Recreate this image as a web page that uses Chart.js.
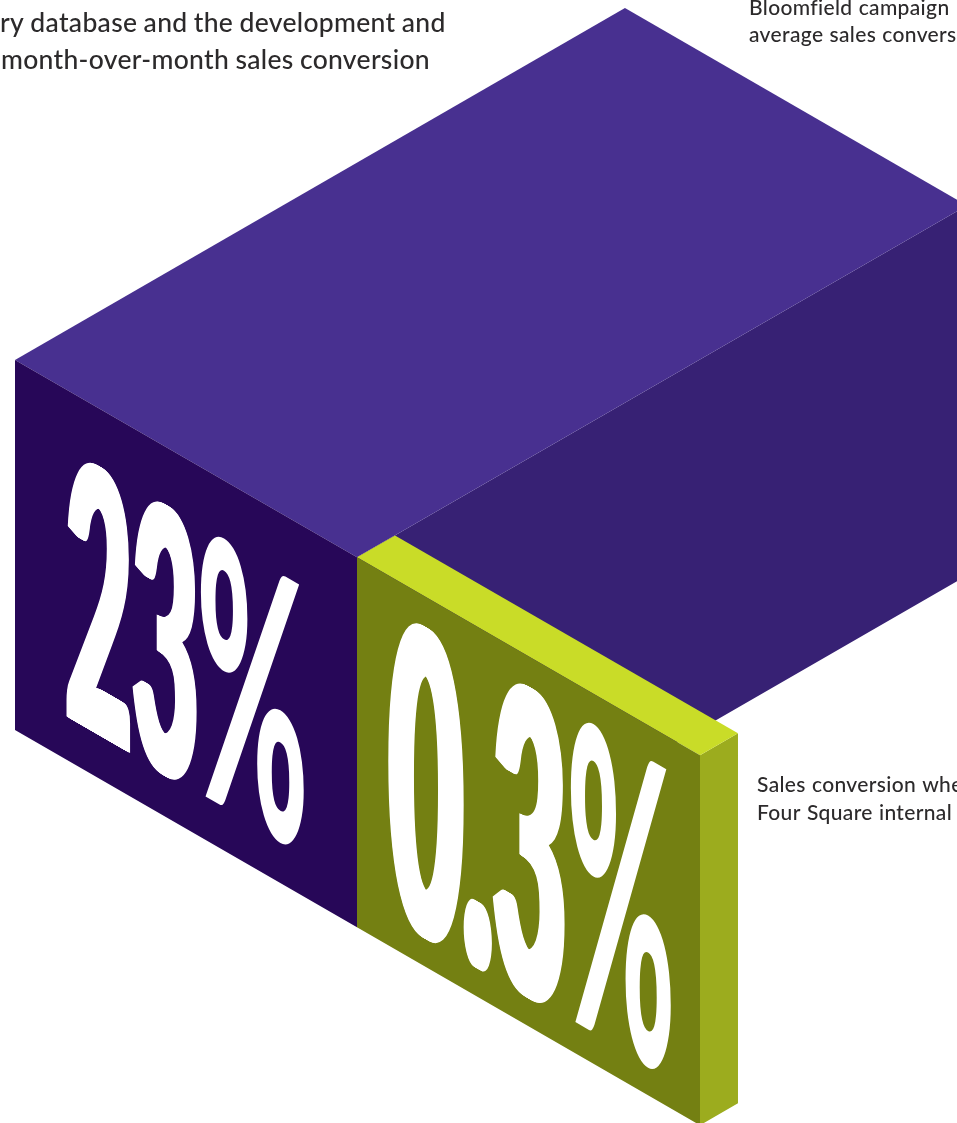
<!DOCTYPE html>
<html>
<head>
<meta charset="utf-8">
<title>Sales conversion</title>
<script src="https://cdn.jsdelivr.net/npm/chart.js@4"></script>
<style>
    html, body { margin: 0; padding: 0; background: #fff; overflow: hidden; }
    #wrap { width: 957px; height: 1123px; }
    canvas { display: block; }
</style>
</head>
<body>
<div id="wrap"><canvas id="blocks" width="957" height="1123"></canvas></div>
<script>
// Sales conversion, %
const conversion = [23, 0.3];

const introLines = ["ry database and the development and", "month-over-month sales conversion"];
const bloomfieldLines = ["Bloomfield campaign", "average sales convers"];
const fourSquareLines = ["Sales conversion whe", "Four Square internal"];

// Isometric layout of the blocks
const SLOPE = 0.577;
const FRONT_LEFT = { x: 15, y: 360 };
const FACE_RUN = 342;
const FACE_HEIGHT = 370;
const DEPTH_PER_DECADE = 303.5;
const DEPTH_FLOOR = 0.2249;

const faceColors = [
    { top: "#483090", side: "#372174", front: "#270758" },
    { top: "#c9dc28", side: "#9cac1e", front: "#748012" }
];

// Depth grows with the log of the value
function depthRun(value) {
    return DEPTH_PER_DECADE * Math.log10(value / DEPTH_FLOOR);
}

// Corner of a block: across the front, back into depth, down the height
function corner(i, across, back, down) {
    const startX = FRONT_LEFT.x + i * FACE_RUN;
    const startY = FRONT_LEFT.y + i * FACE_RUN * SLOPE;
    return {
        x: startX + across + back,
        y: startY + (across - back) * SLOPE + down
    };
}

function face(color, points) {
    return {
        data: points.concat(points[0]),
        showLine: true,
        fill: "shape",
        backgroundColor: color,
        borderColor: color,
        borderWidth: 0,
        pointRadius: 0,
        tension: 0
    };
}

function blockFaces(value, i) {
    const d = depthRun(value);
    const w = FACE_RUN + (i === 1 ? 1 : 0);
    const h = FACE_HEIGHT;
    const colors = faceColors[i];
    return [
        face(colors.side, [corner(i, w, 0, 0), corner(i, w, d, 0), corner(i, w, d, h), corner(i, w, 0, h)]),
        face(colors.top, [corner(i, 0, 0, 0), corner(i, 0, d, 0), corner(i, w, d, 0), corner(i, w, 0, 0)]),
        face(colors.front, [corner(i, 0, 0, 0), corner(i, w, 0, 0), corner(i, w, 0, h), corner(i, 0, 0, h)])
    ];
}

// Big numbers lie on the front faces, squeezed and sheared to the same slope
const figureBoxes = [
    { left: 66, digitsRight: 197, signLeft: 200, right: 305, base: 716, height: 264, bold: 2.5 },
    { left: 388, digitsRight: 565, signLeft: 570, right: 672, base: 914, height: 303, bold: 3 }
];

function drawRun(ctx, text, box, left, right, bold) {
    ctx.save();
    ctx.font = "900 100px Lato";
    ctx.fillStyle = "#fff";
    ctx.textBaseline = "alphabetic";
    const m = ctx.measureText(text);
    const capH = ctx.measureText("1").actualBoundingBoxAscent;
    const sx = (right - left) / (m.actualBoundingBoxRight + m.actualBoundingBoxLeft + bold * 2);
    const sy = box.height / capH;
    const startX = left + (m.actualBoundingBoxLeft + bold) * sx;
    ctx.transform(sx, sx * SLOPE, 0, sy, startX, box.base + (startX - box.left) * SLOPE);
    // the face has no heavier cut, so thicken the strokes sideways only
    for (let dx = -bold; dx <= bold; dx += 0.5) {
        ctx.fillText(text, dx, 0);
    }
    ctx.restore();
}

function drawFigure(ctx, value, box) {
    drawRun(ctx, String(value), box, box.left, box.digitsRight, box.bold);
    drawRun(ctx, "%", box, box.signLeft, box.right, 0);
}

function drawLines(ctx, lines, x, firstBase, lineGap, size, spacing, wordGap) {
    ctx.save();
    ctx.font = "500 " + size + "px Lato";
    ctx.fillStyle = "#2c2a2b";
    ctx.letterSpacing = spacing + "px";
    ctx.wordSpacing = wordGap + "px";
    lines.forEach((line, i) => ctx.fillText(line, x[i], firstBase + i * lineGap));
    ctx.restore();
}

const annotations = {
    id: "annotations",
    afterDatasetsDraw(chart) {
        const ctx = chart.ctx;
        conversion.forEach((value, i) => drawFigure(ctx, value, figureBoxes[i]));
        drawLines(ctx, introLines, [0, 1], 32, 37, 26.5, 0.31, -0.7);
        drawLines(ctx, bloomfieldLines, [749, 749], 15, 27, 21, 0.35, 0.5);
        drawLines(ctx, fourSquareLines, [757, 757], 792, 28, 21, 0.35, 0.5);
    }
};

document.fonts.load("900 100px Lato").then(() => document.fonts.load("500 26px Lato")).finally(() => {
    // Chart.js paints later datasets first, so the frontmost face goes first
    const faces = conversion.flatMap(blockFaces).reverse();
    new Chart(document.getElementById("blocks"), {
        type: "scatter",
        data: { datasets: faces },
        options: {
            responsive: false,
            animation: false,
            layout: { padding: 0 },
            plugins: { legend: { display: false }, tooltip: { enabled: false } },
            scales: {
                x: { type: "linear", min: 0, max: 957, display: false },
                y: { type: "linear", min: 0, max: 1123, reverse: true, display: false }
            }
        },
        plugins: [annotations]
    });
});
</script>
</body>
</html>
